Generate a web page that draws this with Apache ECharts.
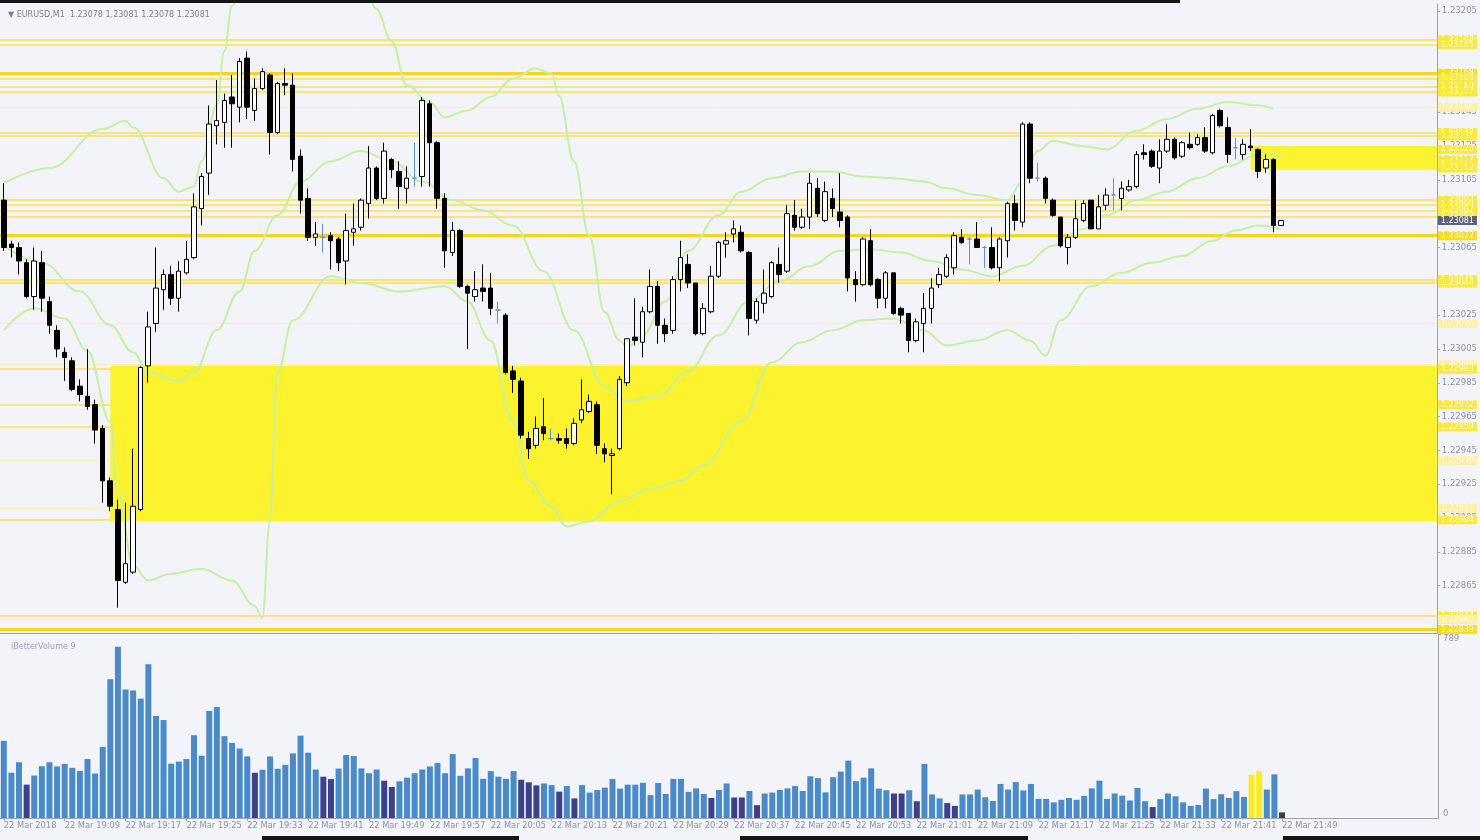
<!DOCTYPE html>
<html><head><meta charset="utf-8">
<script src="https://cdn.jsdelivr.net/npm/echarts@6/dist/echarts.min.js"></script>
<style>html,body{margin:0;padding:0;background:#f3f4fa;}#c{width:1480px;height:840px;}</style>
</head><body><div id="c"></div>
<script>
// ---------- data ----------
const symbolTitle = '\u25BC EURUSD,M1  1.23078 1.23081 1.23078 1.23081';
const volumeTitle = 'iBetterVolume 9';
const firstBarMinute = 19 * 60 + 1;   // 22 Mar 19:01
const barCount = 169;
const emptyBars = 20;                 // chart shift space on the right

const openP = [1.23093,1.23067,1.23065,1.23056,1.23036,1.23056,1.23033,1.23016,1.23003,1.22998,
1.22983,1.22977,1.22972,1.22958,1.22927,1.22910,1.22867,1.22873,1.22910,1.22995,
1.23020,1.23040,1.23049,1.23035,1.23050,1.23059,1.23088,1.23109,1.23137,1.23139,
1.23154,1.23148,1.23177,1.23146,1.23159,1.23167,1.23133,1.23162,1.23161,1.23119,
1.23094,1.23071,1.23071,1.23072,1.23070,1.23057,1.23074,1.23077,1.23091,1.23112,
1.23094,1.23117,1.23110,1.23100,1.23106,1.23107,1.23150,1.23127,1.23094,1.23062,
1.23075,1.23042,1.23036,1.23041,1.23041,1.23028,1.23025,1.22992,1.22986,1.22952,
1.22948,1.22959,1.22952,1.22952,1.22952,1.22949,1.22963,1.22968,1.22972,1.22946,
1.22942,1.22946,1.22985,1.23012,1.23009,1.23027,1.23042,1.23019,1.23016,1.23046,
1.23055,1.23044,1.23014,1.23027,1.23048,1.23067,1.23073,1.23074,1.23062,1.23022,
1.23032,1.23036,1.23055,1.23051,1.23084,1.23077,1.23083,1.23100,1.23081,1.23094,
1.23086,1.23083,1.23046,1.23043,1.23069,1.23046,1.23035,1.23050,1.23029,1.23026,
1.23010,1.23020,1.23029,1.23043,1.23048,1.23053,1.23071,1.23070,1.23070,1.23065,
1.23065,1.23053,1.23069,1.23091,1.23080,1.23138,1.23106,1.23106,1.23093,1.23083,
1.23065,1.23071,1.23081,1.23093,1.23076,1.23090,1.23096,1.23094,1.23099,1.23101,
1.23121,1.23122,1.23112,1.23122,1.23129,1.23119,1.23126,1.23126,1.23130,1.23121,
1.23146,1.23136,1.23124,1.23120,1.23125,1.23123,1.23112,1.23117,1.23078];

const highP = [1.23103,1.23069,1.23068,1.23058,1.23065,1.23063,1.23036,1.23019,1.23006,1.23000,
1.22987,1.23005,1.22975,1.22960,1.22929,1.22916,1.22914,1.22946,1.22995,1.23027,
1.23065,1.23052,1.23054,1.23057,1.23069,1.23097,1.23109,1.23149,1.23164,1.23156,
1.23167,1.23177,1.23181,1.23165,1.23171,1.23168,1.23163,1.23171,1.23168,1.23123,
1.23100,1.23080,1.23079,1.23074,1.23071,1.23085,1.23091,1.23094,1.23125,1.23113,
1.23127,1.23118,1.23116,1.23113,1.23127,1.23154,1.23152,1.23128,1.23097,1.23080,
1.23076,1.23043,1.23051,1.23055,1.23050,1.23033,1.23026,1.22995,1.22988,1.22956,
1.22965,1.22976,1.22958,1.22955,1.22958,1.22964,1.22987,1.22978,1.22974,1.22949,
1.22946,1.22989,1.23011,1.23035,1.23030,1.23052,1.23045,1.23023,1.23048,1.23069,
1.23061,1.23044,1.23032,1.23054,1.23069,1.23074,1.23081,1.23078,1.23063,1.23035,
1.23052,1.23057,1.23065,1.23090,1.23093,1.23088,1.23109,1.23106,1.23104,1.23100,
1.23109,1.23084,1.23051,1.23071,1.23076,1.23047,1.23051,1.23050,1.23030,1.23026,
1.23023,1.23038,1.23047,1.23053,1.23061,1.23074,1.23076,1.23071,1.23080,1.23066,
1.23077,1.23071,1.23092,1.23096,1.23139,1.23139,1.23115,1.23107,1.23094,1.23083,
1.23073,1.23093,1.23093,1.23093,1.23096,1.23100,1.23106,1.23104,1.23105,1.23122,
1.23126,1.23123,1.23129,1.23138,1.23130,1.23128,1.23133,1.23132,1.23136,1.23144,
1.23147,1.23142,1.23130,1.23129,1.23135,1.23124,1.23120,1.23118,1.23081];

const lowP = [1.23063,1.23059,1.23049,1.23035,1.23028,1.23027,1.23014,1.23000,1.22986,1.22980,
1.22974,1.22969,1.22949,1.22914,1.22909,1.22852,1.22866,1.22872,1.22909,1.22985,
1.23015,1.23028,1.23031,1.23027,1.23049,1.23058,1.23078,1.23096,1.23126,1.23124,
1.23124,1.23139,1.23141,1.23140,1.23158,1.23120,1.23132,1.23155,1.23110,1.23085,
1.23069,1.23066,1.23062,1.23052,1.23051,1.23043,1.23066,1.23075,1.23082,1.23093,
1.23091,1.23106,1.23088,1.23091,1.23101,1.23101,1.23101,1.23088,1.23053,1.23060,
1.23041,1.23005,1.23033,1.23033,1.23025,1.23020,1.22990,1.22979,1.22952,1.22940,
1.22946,1.22951,1.22951,1.22949,1.22946,1.22948,1.22961,1.22967,1.22943,1.22938,
1.22919,1.22945,1.22983,1.23007,1.23000,1.23026,1.23008,1.23009,1.23014,1.23039,
1.23041,1.23013,1.23013,1.23026,1.23047,1.23059,1.23068,1.23062,1.23013,1.23020,
1.23026,1.23035,1.23044,1.23050,1.23075,1.23076,1.23076,1.23083,1.23080,1.23083,
1.23077,1.23039,1.23033,1.23042,1.23042,1.23029,1.23029,1.23025,1.23020,1.23003,
1.23009,1.23003,1.23020,1.23041,1.23047,1.23049,1.23067,1.23055,1.23065,1.23053,
1.23052,1.23045,1.23059,1.23075,1.23077,1.23103,1.23104,1.23091,1.23083,1.23065,
1.23055,1.23070,1.23080,1.23076,1.23076,1.23087,1.23087,1.23087,1.23098,1.23100,
1.23117,1.23112,1.23103,1.23121,1.23117,1.23118,1.23123,1.23125,1.23121,1.23120,
1.23136,1.23115,1.23117,1.23117,1.23122,1.23106,1.23109,1.23074,1.23078];

const closeP = [1.23065,1.23065,1.23057,1.23036,1.23057,1.23035,1.23019,1.23005,1.23000,1.22981,
1.22978,1.22971,1.22957,1.22927,1.22912,1.22868,1.22878,1.22912,1.22994,1.23018,
1.23041,1.23049,1.23035,1.23051,1.23058,1.23089,1.23107,1.23138,1.23140,1.23152,
1.23150,1.23175,1.23148,1.23159,1.23169,1.23133,1.23162,1.23161,1.23117,1.23093,
1.23071,1.23073,1.23071,1.23069,1.23056,1.23075,1.23076,1.23093,1.23112,1.23094,
1.23122,1.23111,1.23101,1.23106,1.23106,1.23152,1.23127,1.23094,1.23063,1.23075,
1.23042,1.23038,1.23040,1.23039,1.23029,1.23028,1.22991,1.22987,1.22954,1.22946,
1.22958,1.22955,1.22952,1.22951,1.22949,1.22961,1.22969,1.22974,1.22948,1.22943,
1.22943,1.22987,1.23011,1.23010,1.23027,1.23042,1.23019,1.23014,1.23046,1.23059,
1.23044,1.23014,1.23029,1.23048,1.23068,1.23069,1.23076,1.23063,1.23023,1.23033,
1.23038,1.23056,1.23049,1.23085,1.23077,1.23083,1.23103,1.23085,1.23098,1.23088,
1.23081,1.23047,1.23043,1.23070,1.23043,1.23035,1.23050,1.23026,1.23025,1.23010,
1.23021,1.23029,1.23041,1.23049,1.23059,1.23072,1.23068,1.23070,1.23065,1.23065,
1.23053,1.23070,1.23091,1.23081,1.23138,1.23106,1.23106,1.23094,1.23084,1.23066,
1.23071,1.23082,1.23091,1.23076,1.23089,1.23096,1.23096,1.23100,1.23101,1.23120,
1.23120,1.23113,1.23122,1.23129,1.23118,1.23127,1.23124,1.23130,1.23122,1.23143,
1.23137,1.23120,1.23124,1.23126,1.23124,1.23110,1.23117,1.23078,1.23081];

const volume = [331,194,239,143,182,222,239,221,232,215,
202,253,191,305,595,734,551,547,512,659,
438,420,233,242,253,355,267,459,476,351,
322,298,264,194,207,264,211,228,277,353,
280,208,177,167,212,270,266,213,192,208,
160,133,157,173,192,208,221,236,192,274,
181,213,257,168,201,177,168,201,164,153,
140,148,141,113,137,84,141,109,120,130,
167,126,143,143,151,98,150,103,168,168,
112,127,103,86,120,148,88,88,116,55,
105,109,120,127,137,116,179,171,110,175,
199,246,158,173,213,126,119,105,105,119,
72,232,101,84,64,52,101,101,122,89,
73,146,122,154,118,146,82,82,67,78,
86,78,95,127,160,82,105,96,75,129,
72,47,81,105,93,67,52,56,126,81,
102,86,115,90,185,201,122,187,24];
const volumeMax = 789;
const lowVolumeBars = [3,33,42,43,50,51,68,69,70,73,75,93,96,97,99,117,118,120,124,125,151];
const climaxBars = [164,165];
const currentBar = 168;

const priceTicks = [1.22865,1.22885,1.22905,1.22925,1.22945,1.22965,1.22985,1.23005,1.23025,
1.23045,1.23065,1.23085,1.23105,1.23125,1.23145,1.23165,1.23185,1.23205];

const levelPrice = [1.23188,1.23185,1.23168,1.23165,1.23160,1.23157,1.23148,1.23133,1.23131,
1.23093,1.23090,1.23087,1.23083,1.23072,1.23046,1.23044,1.23020,1.22996,1.22993,1.22972,
1.22959,1.22939,1.22911,1.22904,1.22847,1.22845,1.22839];
const levelKind = ['thin','thin','thick','thin','thin','thin','faint','thin','thin',
'thin','thin','thin','thin','thick','thin','thin','faint','faint','thin','thin',
'thin','faint','faint','thin','thin','faint','thick'];
const tagOnlyPrice = [1.23123,1.23117,1.23112];
const lastPrice = 1.23081;

const zoneStart = ['19:15','21:45'];
const zoneTop = [1.22995,1.23125];
const zoneBottom = [1.22903,1.23111];

const bbUpper = [['19:01',1.23103],['19:07',1.23112],['19:14',1.23135],['19:17',1.23140],['19:18',1.23136],
['19:22',1.23106],['19:24',1.23098],['19:26',1.23101],['19:27',1.23116],['19:29',1.23149],['19:30',1.23181],
['19:31',1.23208],['19:33',1.2323],['19:48',1.2323],['19:50',1.23206],['19:52',1.23187],['19:54',1.23161],
['19:57',1.23151],['19:59',1.23142],['20:02',1.23146],['20:05',1.23154],['20:08',1.23165],['20:11',1.23171],
['20:13',1.23168],['20:14',1.23155],['20:16',1.23116],['20:18',1.23072],['20:20',1.23027],['20:22',1.23010],
['20:23',1.23006],['20:25',1.23013],['20:28',1.23033],['20:31',1.23063],['20:35',1.23084],['20:38',1.23098],
['20:42',1.23106],['20:46',1.23110],['20:50',1.23110],['20:54',1.23107],['20:58',1.23106],['21:02',1.23104],
['21:05',1.23100],['21:09',1.23096],['21:13',1.23093],['21:15',1.23104],['21:17',1.23122],['21:19',1.23128],
['21:23',1.23125],['21:26',1.23123],['21:30',1.23134],['21:34',1.23141],['21:38',1.23147],['21:42',1.23151],
['21:46',1.23149],['21:48',1.23147]];
const bbMiddle = [['19:01',1.23066],['19:06',1.23056],['19:11',1.23039],['19:15',1.23019],['19:18',1.23003],
['19:20',1.22991],['19:24',1.22986],['19:26',1.22991],['19:29',1.23016],['19:32',1.23039],['19:34',1.23063],
['19:37',1.23084],['19:40',1.23104],['19:44',1.23116],['19:48',1.23122],['19:52',1.23116],['19:56',1.23104],
['20:00',1.23093],['20:04',1.23087],['20:08',1.23078],['20:12',1.23051],['20:16',1.23016],['20:20',1.22983],
['20:23',1.22974],['20:27',1.22977],['20:31',1.22992],['20:35',1.23013],['20:39',1.23033],['20:43',1.23045],
['20:47',1.23054],['20:51',1.23063],['20:55',1.23064],['20:59',1.23062],['21:03',1.23057],['21:07',1.23052],
['21:11',1.23048],['21:15',1.23054],['21:19',1.23066],['21:23',1.23076],['21:26',1.23084],['21:30',1.23093],
['21:34',1.23098],['21:38',1.23106],['21:42',1.23113],['21:46',1.23120],['21:49',1.23119]];
const bbLower = [['19:01',1.23016],['19:05',1.23029],['19:09',1.23023],['19:12',1.23004],['19:15',1.22962],
['19:16',1.22921],['19:18',1.22877],['19:20',1.22868],['19:23',1.22872],['19:27',1.22875],['19:31',1.22868],
['19:34',1.22853],['19:35',1.22846],['19:36',1.22903],['19:37',1.22991],['19:39',1.23022],['19:44',1.23048],
['19:48',1.23044],['19:53',1.23039],['19:59',1.23042],['20:02',1.23033],['20:05',1.23010],['20:08',1.22962],
['20:10',1.22927],['20:13',1.22912],['20:15',1.22900],['20:18',1.22903],['20:22',1.22915],['20:26',1.22922],
['20:30',1.22927],['20:33',1.22936],['20:38',1.22962],['20:42',1.22997],['20:46',1.23009],['20:50',1.23016],
['20:54',1.23022],['20:58',1.23023],['21:02',1.23016],['21:05',1.23007],['21:09',1.23010],['21:13',1.23016],
['21:16',1.23010],['21:18',1.23001],['21:20',1.23022],['21:24',1.23042],['21:28',1.23050],['21:32',1.23056],
['21:36',1.23060],['21:40',1.23069],['21:43',1.23075],['21:46',1.23078],['21:49',1.23076]];

// ---------- build ----------
function hhmm(m){const h=Math.floor(m/60),mm=m%60;return h+':'+String(mm).padStart(2,'0');}
const cats=[];for(let i=0;i<barCount+emptyBars;i++)cats.push(hhmm(firstBarMinute+i));

const FONT='DejaVu Sans';
const AXIS_COL='#9ea1b0';
const LABEL_COL='#8e92a3';
const dojiStyle={color:'#5b93d8',color0:'#5b93d8',borderColor:'#5b93d8',borderColor0:'#5b93d8'};
const candleData=openP.map((o,i)=>{
  const it={value:[o,closeP[i],lowP[i],highP[i]]};
  if(o===closeP[i])it.itemStyle=dojiStyle;
  return it;
});
function volColor(i){
  if(i===currentBar)return '#3a3a48';
  if(climaxBars.indexOf(i)>=0)return '#f7ef1d';
  if(lowVolumeBars.indexOf(i)>=0)return '#3d4288';
  return '#4a8ac6';
}
const volData=volume.map((v,i)=>({value:v,itemStyle:{color:volColor(i)}}));

const HIDDEN_LINE={color:'rgba(0,0,0,0)',width:0};
const levelStyle={thick:{color:'#f8d51c',width:3},thin:{color:'#fbe24e',width:1.5},faint:{color:'#fbefbf',width:1}};
const tagBg={thick:'#f8dc20',thin:'#fbe83c',faint:'#fbf0a8'};
function tagLabel(p,bg,fg){return {show:true,position:'end',distance:1,formatter:()=>p.toFixed(5),
  backgroundColor:bg,color:fg||'#fffbe0',fontSize:8,fontFamily:FONT,padding:[1,3,0,3]};}
const levelLines=levelPrice.map((p,i)=>({yAxis:p,lineStyle:Object.assign({type:'solid'},levelStyle[levelKind[i]]),
  label:tagLabel(p,tagBg[levelKind[i]])}));
tagOnlyPrice.forEach(p=>levelLines.push({yAxis:p,lineStyle:HIDDEN_LINE,label:tagLabel(p,'#fbe83c')}));

const zones=zoneStart.map((s,i)=>[{xAxis:s,yAxis:zoneTop[i]},{yAxis:zoneBottom[i]}]);

const showIdx=(idx)=>idx%8===0&&idx<barCount;

const bbStyle={color:'#c6f0a4',width:2};
function bbSeries(name,data,extra){
  return Object.assign({name,type:'line',xAxisIndex:0,yAxisIndex:0,data,smooth:0.4,smoothMonotone:'x',
    symbol:'none',lineStyle:bbStyle,z:2,silent:true},extra||{});
}

const option={
  animation:false,
  backgroundColor:'#f3f4fa',
  textStyle:{fontFamily:FONT},
  title:[
    {text:symbolTitle,left:3,top:6,textStyle:{fontSize:8,color:'#7c8091',fontWeight:'normal',fontFamily:FONT}},
    {text:volumeTitle,left:6,top:638,textStyle:{fontSize:8,color:'#a09cc8',fontWeight:'normal',fontFamily:FONT}}
  ],
  grid:[{left:-2,right:42,top:4,height:629},{left:-2,right:42,top:634,height:184}],
  xAxis:[
    {type:'category',gridIndex:0,data:cats,boundaryGap:true,
     axisLine:{show:true,lineStyle:{color:AXIS_COL}},axisTick:{show:false},axisLabel:{show:false},splitLine:{show:false}},
    {type:'category',gridIndex:1,data:cats,boundaryGap:true,
     axisLine:{show:true,lineStyle:{color:AXIS_COL}},
     axisTick:{show:true,interval:showIdx,alignWithLabel:true,length:3,lineStyle:{color:AXIS_COL}},
     axisLabel:{interval:showIdx,align:'left',margin:4,fontSize:8.3,color:LABEL_COL,fontFamily:FONT,
       formatter:(v,idx)=>idx===0?'22 Mar 2018':'22 Mar '+v},
     splitLine:{show:false}}
  ],
  yAxis:[
    {type:'value',gridIndex:0,position:'right',min:1.22837,max:1.23209,
     axisLine:{show:true,lineStyle:{color:AXIS_COL}},
     axisTick:{show:true,length:3,customValues:priceTicks,lineStyle:{color:AXIS_COL}},
     axisLabel:{customValues:priceTicks,formatter:v=>v.toFixed(5),fontSize:8.5,color:LABEL_COL,margin:5,fontFamily:FONT},
     splitLine:{show:false}},
    {type:'value',gridIndex:1,position:'right',min:0,max:volumeMax,
     axisLine:{show:true,lineStyle:{color:AXIS_COL}},
     axisTick:{show:true,length:3,customValues:[volumeMax],lineStyle:{color:AXIS_COL}},
     axisLabel:{customValues:[volumeMax],verticalAlign:'top',fontSize:8.5,color:LABEL_COL,margin:5,fontFamily:FONT},
     splitLine:{show:false}},
    {type:'value',gridIndex:1,position:'right',min:0,max:volumeMax,
     axisLine:{show:false},axisTick:{show:false},
     axisLabel:{customValues:[0],verticalAlign:'bottom',fontSize:8.5,color:LABEL_COL,margin:5,fontFamily:FONT},
     splitLine:{show:false}}
  ],
  series:[
    {name:'EURUSD',type:'candlestick',xAxisIndex:0,yAxisIndex:0,data:candleData,barWidth:5,z:3,silent:true,
     itemStyle:{color:'#ffffff',color0:'#000000',borderColor:'#000000',borderColor0:'#000000',borderWidth:1},
     markArea:{silent:true,z:1.2,itemStyle:{color:'#fdf22e'},data:zones}},
    bbSeries('BB upper',bbUpper),
    bbSeries('BB middle',bbMiddle,{markLine:{symbol:['none','none'],precision:5,silent:true,z:6,animation:false,
      data:[{yAxis:lastPrice,lineStyle:HIDDEN_LINE,label:tagLabel(lastPrice,'#5e6279','#ffffff')}]}}),
    bbSeries('BB lower',bbLower,{markLine:{symbol:['none','none'],precision:5,silent:true,z:1,animation:false,data:levelLines}}),
    {name:'Volume',type:'bar',xAxisIndex:1,yAxisIndex:1,data:volData,barWidth:6,z:2,silent:true}
  ],
  graphic:[
    {type:'rect',shape:{x:0,y:0,width:1180,height:3},style:{fill:'#151515'},silent:true},
    {type:'rect',shape:{x:262,y:836,width:257,height:4},style:{fill:'#151515'},silent:true},
    {type:'rect',shape:{x:740,y:836,width:288,height:4},style:{fill:'#151515'},silent:true},
    {type:'rect',shape:{x:1283,y:836,width:197,height:4},style:{fill:'#151515'},silent:true}
  ]
};
const chart=echarts.init(document.getElementById('c'),null,{renderer:'canvas',width:1480,height:840});
chart.setOption(option);
</script></body></html>
